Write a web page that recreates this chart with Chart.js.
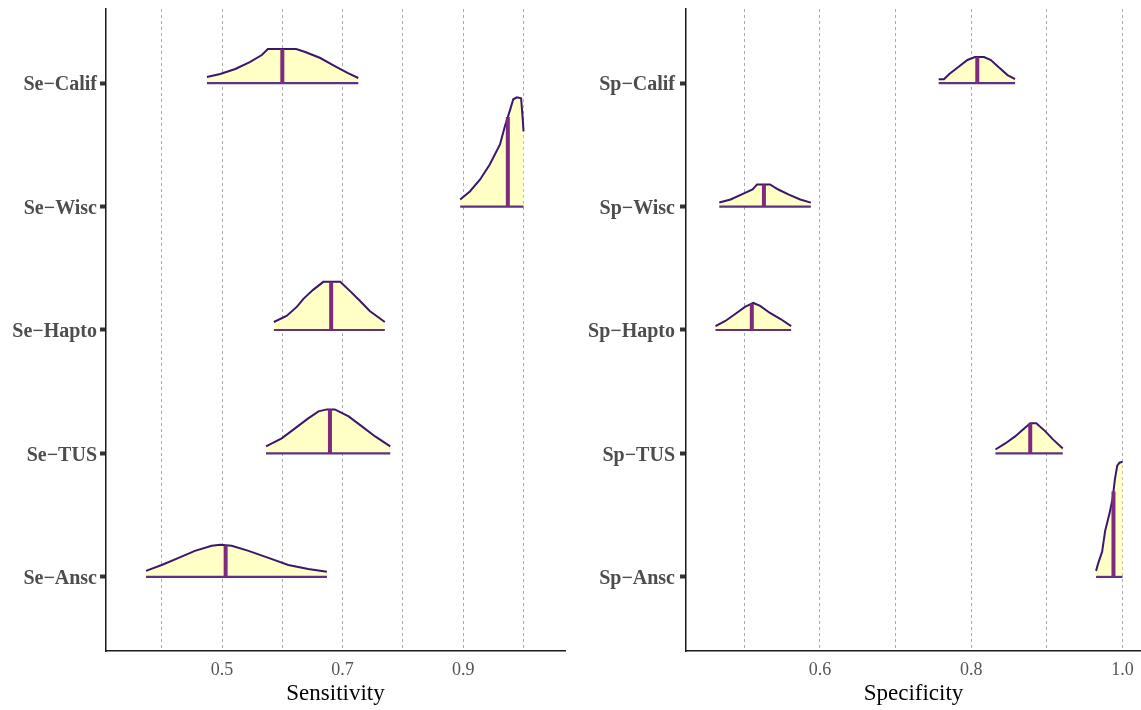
<!DOCTYPE html>
<html>
<head>
<meta charset="utf-8">
<script src="https://cdn.jsdelivr.net/npm/chart.js@4.4.1/dist/chart.umd.min.js"></script>
<style>
html, body { margin: 0; padding: 0; background: #fff; }
#wrap { position: relative; width: 1141px; height: 710px; }
#seBox { position: absolute; left: 0; top: 0; width: 570px; height: 710px; }
#spBox { position: absolute; left: 570px; top: 0; width: 571px; height: 710px; }
</style>
</head>
<body>
<div id="wrap">
    <div id="seBox"><canvas id="seChart"></canvas></div>
    <div id="spBox"><canvas id="spChart"></canvas></div>
</div>
<script>
// Categories, top to bottom
const seCategories = ['Se\u2212Calif', 'Se\u2212Wisc', 'Se\u2212Hapto', 'Se\u2212TUS', 'Se\u2212Ansc'];
const spCategories = ['Sp\u2212Calif', 'Sp\u2212Wisc', 'Sp\u2212Hapto', 'Sp\u2212TUS', 'Sp\u2212Ansc'];

// Posterior density outlines (x value, ridge height in row units)
const seDensX = [
    [0.475, 0.497, 0.522, 0.546, 0.566, 0.576, 0.623, 0.638, 0.663, 0.687, 0.709, 0.726],
    [0.895, 0.911, 0.928, 0.944, 0.961, 0.969, 0.978, 0.983, 0.989, 0.996, 0.999, 1.0],
    [0.586, 0.607, 0.624, 0.635, 0.651, 0.668, 0.671, 0.696, 0.712, 0.729, 0.745, 0.770],
    [0.573, 0.599, 0.621, 0.643, 0.660, 0.674, 0.687, 0.710, 0.732, 0.754, 0.779],
    [0.374, 0.400, 0.428, 0.455, 0.483, 0.497, 0.516, 0.544, 0.577, 0.610, 0.643, 0.674]
];
const seDensH = [
    [0.049, 0.073, 0.114, 0.170, 0.227, 0.276, 0.276, 0.252, 0.203, 0.138, 0.081, 0.041],
    [0.057, 0.122, 0.219, 0.341, 0.503, 0.649, 0.787, 0.869, 0.885, 0.877, 0.690, 0.609],
    [0.065, 0.114, 0.187, 0.252, 0.325, 0.390, 0.390, 0.390, 0.317, 0.235, 0.154, 0.065],
    [0.057, 0.122, 0.203, 0.284, 0.341, 0.357, 0.357, 0.300, 0.219, 0.138, 0.057],
    [0.049, 0.097, 0.154, 0.211, 0.252, 0.260, 0.252, 0.211, 0.154, 0.097, 0.065, 0.041]
];
const seMedians = [0.600, 0.974, 0.681, 0.679, 0.506];

const spDensX = [
    [0.757, 0.764, 0.771, 0.783, 0.795, 0.805, 0.817, 0.826, 0.836, 0.848, 0.858],
    [0.467, 0.482, 0.496, 0.511, 0.517, 0.534, 0.545, 0.559, 0.574, 0.588],
    [0.462, 0.475, 0.488, 0.501, 0.512, 0.521, 0.534, 0.548, 0.562],
    [0.832, 0.845, 0.858, 0.870, 0.878, 0.886, 0.898, 0.908, 0.921],
    [0.965, 0.968, 0.973, 0.977, 0.983, 0.987, 0.990, 0.993, 0.996, 1.0]
];
const spDensH = [
    [0.032, 0.032, 0.073, 0.130, 0.187, 0.211, 0.211, 0.187, 0.130, 0.065, 0.032],
    [0.032, 0.057, 0.097, 0.138, 0.179, 0.179, 0.138, 0.097, 0.057, 0.032],
    [0.032, 0.073, 0.130, 0.187, 0.219, 0.195, 0.138, 0.089, 0.032],
    [0.032, 0.081, 0.138, 0.203, 0.244, 0.244, 0.179, 0.114, 0.041],
    [0.049, 0.114, 0.203, 0.373, 0.519, 0.641, 0.795, 0.901, 0.925, 0.933]
];
const spMedians = [0.808, 0.526, 0.510, 0.878, 0.988];

// Axis ticks
const seGridValues = [0.4, 0.5, 0.6, 0.7, 0.8, 0.9, 1.0];
const seTickValues = [0.5, 0.7, 0.9];
const seTickLabels = ['0.5', '0.7', '0.9'];
const spGridValues = [0.5, 0.6, 0.7, 0.8, 0.9, 1.0];
const spTickValues = [0.6, 0.8, 1.0];
const spTickLabels = ['0.6', '0.8', '1.0'];

Chart.defaults.font.family = "'Liberation Serif', 'DejaVu Serif', serif";

const FILL = '#FFFFC6';
const OUTLINE = '#3A176B';
const BASELINE = '#5B3288';
const MEDIAN = '#7E2B7E';

// height of the ridge at a given x (for the top of the median line)
function heightAt(xs, hs, x) {
    for (let k = 0; k < xs.length - 1; k++) {
        if (x >= xs[k] && x <= xs[k + 1]) {
            const t = (x - xs[k]) / (xs[k + 1] - xs[k]);
            return hs[k] + t * (hs[k + 1] - hs[k]);
        }
    }
    return hs[hs.length - 1];
}

function buildRidgeChart(canvasId, cfg) {
    const n = cfg.categories.length;
    const datasets = [];

    cfg.categories.forEach((cat, i) => {
        const row = n - i;
        const xs = cfg.densX[i];
        const hs = cfg.densH[i];

        datasets.push({
            label: cat,
            data: xs.map((x, k) => ({ x: x, y: row + hs[k] })),
            borderColor: OUTLINE,
            borderWidth: 2,
            backgroundColor: FILL,
            fill: { value: row },
            pointRadius: 0,
            tension: 0,
            order: 2
        });

        datasets.push({
            label: cat + ' base',
            data: [{ x: xs[0], y: row }, { x: xs[xs.length - 1], y: row }],
            borderColor: BASELINE,
            borderWidth: 2.2,
            pointRadius: 0,
            fill: false,
            order: 1
        });

        const m = cfg.medians[i];
        datasets.push({
            label: cat + ' median',
            data: [{ x: m, y: row }, { x: m, y: row + heightAt(xs, hs, m) }],
            borderColor: MEDIAN,
            borderWidth: 4,
            borderCapStyle: 'butt',
            pointRadius: 0,
            fill: false,
            order: 0
        });
    });

    const ctx = document.getElementById(canvasId).getContext('2d');
    return new Chart(ctx, {
        type: 'line',
        data: { datasets: datasets },
        options: {
            responsive: true,
            maintainAspectRatio: false,
            animation: false,
            layout: { padding: cfg.padding },
            plugins: {
                legend: { display: false },
                tooltip: { enabled: false }
            },
            scales: {
                x: {
                    type: 'linear',
                    min: cfg.xMin,
                    max: cfg.xMax,
                    afterBuildTicks: s => { s.ticks = cfg.gridValues.map(v => ({ value: v })); },
                    afterFit: s => { s.height = 59; s.paddingLeft = 0; s.paddingRight = 0; },
                    grid: { color: '#ababab', lineWidth: 1, drawTicks: false },
                    border: { display: true, color: '#1a1a1a', width: 1.5, dash: [3, 3] },
                    ticks: {
                        autoSkip: false,
                        maxRotation: 0,
                        padding: 8,
                        color: '#555',
                        font: { size: 18 },
                        callback: v => {
                            const idx = cfg.tickValues.findIndex(t => Math.abs(t - v) < 1e-9);
                            return idx >= 0 ? cfg.tickLabels[idx] : '';
                        }
                    },
                    title: {
                        display: true,
                        text: cfg.title,
                        color: '#000',
                        font: { size: 23 },
                        padding: { top: 0, bottom: 2 }
                    }
                },
                y: {
                    type: 'linear',
                    min: 0.4,
                    max: n + 0.6,
                    afterBuildTicks: s => { s.ticks = cfg.categories.map((c, i) => ({ value: n - i })); },
                    afterFit: s => { s.width = cfg.yWidth; s.paddingTop = 0; s.paddingBottom = 0; },
                    grid: {
                        drawOnChartArea: false,
                        drawTicks: true,
                        tickLength: 6,
                        tickWidth: 4,
                        tickColor: '#333'
                    },
                    border: { display: true, color: '#1a1a1a', width: 1.5 },
                    ticks: {
                        autoSkip: false,
                        padding: cfg.labelPad,
                        labelOffset: 2,
                        color: '#4d4d4d',
                        font: { size: 20, weight: 'bold' },
                        callback: v => cfg.categories[n - v]
                    }
                }
            }
        }
    });
}

buildRidgeChart('seChart', {
    categories: seCategories,
    densX: seDensX,
    densH: seDensH,
    medians: seMedians,
    xMin: 0.3076,
    xMax: 1.0688,
    gridValues: seGridValues,
    tickValues: seTickValues,
    tickLabels: seTickLabels,
    title: 'Sensitivity',
    yWidth: 106,
    labelPad: 3,
    padding: { top: 9, right: 5, left: 0, bottom: 0 }
});

buildRidgeChart('spChart', {
    categories: spCategories,
    densX: spDensX,
    densH: spDensH,
    medians: spMedians,
    xMin: 0.423,
    xMax: 1.0244,
    gridValues: spGridValues,
    tickValues: spTickValues,
    tickLabels: spTickLabels,
    title: 'Specificity',
    yWidth: 116,
    labelPad: 5,
    padding: { top: 9, right: 0, left: 0, bottom: 0 }
});
</script>
</body>
</html>
